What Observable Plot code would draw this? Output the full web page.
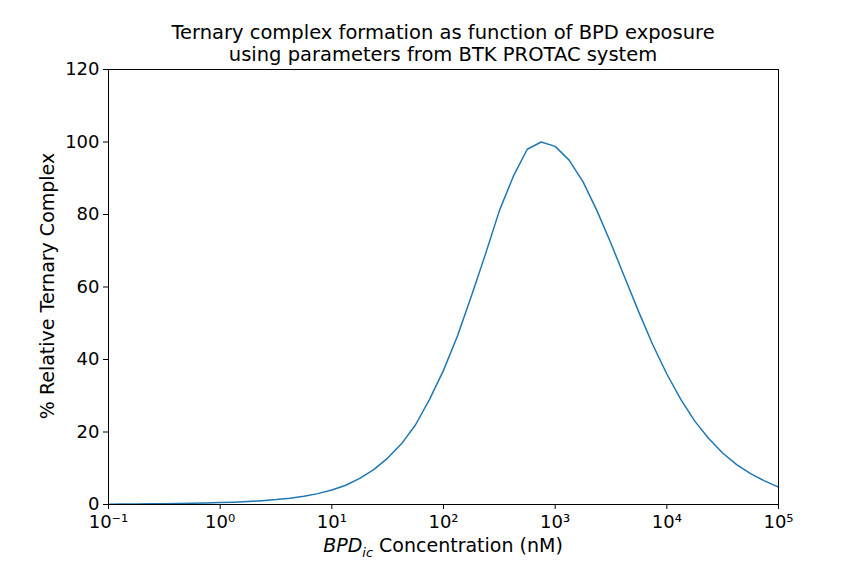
<!DOCTYPE html>
<html><head><meta charset="utf-8">
<script src="https://cdn.jsdelivr.net/npm/d3@7"></script>
<script src="https://cdn.jsdelivr.net/npm/@observablehq/plot@0.6"></script>
<style>
body{margin:0;background:#fff;font-family:"DejaVu Sans",sans-serif;}
#wrap{position:relative;width:864px;height:576px;}
.t{position:absolute;color:#000;white-space:nowrap;}
</style></head><body>
<div id="wrap"></div>
<script>
const exponents = d3.range(-1, 5.0001, 0.125);
const values = [0.1,0.12,0.15,0.19,0.23,0.28,0.34,0.42,0.52,0.65,0.82,1.05,1.35,1.75,2.25,3.0,4.0,5.3,7.2,9.6,12.8,16.8,22.0,29.0,37.0,46.5,57.5,69.0,81.0,90.5,98.0,100.0,98.8,95.0,89.0,81.0,72.0,62.5,53.0,44.0,36.0,29.0,23.0,18.2,14.2,11.0,8.5,6.5,4.8];
const xTicks = [0.1,1,10,100,1000,10000,100000];
const xTickLabels = ["10⁻¹","10⁰","10¹","10²","10³","10⁴","10⁵"];
const yTicks = [0,20,40,60,80,100,120];
const data = exponents.map((e,i)=>({x:Math.pow(10,e), y:values[i]}));

const plot = Plot.plot({
  width:864, height:576,
  marginTop:69, marginBottom:72, marginLeft:108, marginRight:86,
  style:{fontFamily:"DejaVu Sans", fontSize:"18px", color:"#000", background:"#fff"},
  x:{type:"log", domain:[0.1,100000], ticks:xTicks, tickFormat:(d)=>xTickLabels[xTicks.indexOf(d)], label:null, tickSize:5, tickPadding:6},
  y:{domain:[0,120], ticks:yTicks, label:null, tickSize:5},
  marks:[
    Plot.line(data,{x:"x",y:"y",stroke:"#1f77b4",strokeWidth:1.5}),
    Plot.frame({stroke:"#000"})
  ]
});
document.getElementById("wrap").appendChild(plot);
const w=document.getElementById("wrap");
w.insertAdjacentHTML("beforeend",
 `<div class="t" style="left:0;width:886px;top:22px;text-align:center;font-size:19.5px;line-height:22px">Ternary complex formation as function of BPD exposure<br>using parameters from BTK PROTAC system</div>
  <div class="t" style="left:108px;width:670px;top:534px;text-align:center;font-size:19px"><i>BPD<sub style="font-size:13px">ic</sub></i> Concentration (nM)</div>
  <div class="t" style="left:47px;top:286px;font-size:19px;transform:translate(-50%,-50%) rotate(-90deg)">% Relative Ternary Complex</div>`);
</script></body></html>
